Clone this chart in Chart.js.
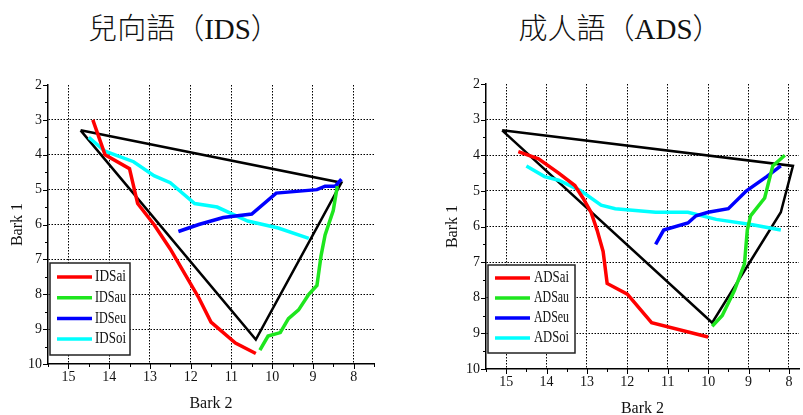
<!DOCTYPE html>
<html>
<head>
<meta charset="utf-8">
<script src="https://cdn.jsdelivr.net/npm/chart.js@4.4.1/dist/chart.umd.min.js"></script>
<style>
  html, body { margin: 0; padding: 0; background: #fff; overflow: hidden; }
  body { width: 803px; height: 415px; position: relative; }
  .title {
    position: absolute;
    top: 9px;
    line-height: 40px;
    font-family: "Liberation Serif", "Noto Sans CJK TC", serif;
    font-size: 29px;
    font-weight: 300;
    color: #111;
    white-space: nowrap;
    transform: translateX(-50%);
  }
  .box { position: absolute; top: 0; height: 420px; }
</style>
</head>
<body>
<div class="title" style="left:184px">兒向語（IDS）</div>
<div class="title" style="left:620px">成人語（ADS）</div>
<div class="box" style="left:0;width:400px"><canvas id="idsChart"></canvas></div>
<div class="box" style="left:400px;width:403px"><canvas id="adsChart"></canvas></div>
<script>
// [Bark 2, Bark 1] pairs
const idsTriangle = [[14.7, 3.3], [8.3, 4.8], [10.4, 9.3], [14.7, 3.3]];
const idsAi = [[14.4, 3.0], [14.1, 4.0], [13.5, 4.4], [13.3, 5.4], [12.9, 6.0], [12.5, 6.7], [12.0, 7.7], [11.8, 8.1], [11.5, 8.8], [10.9, 9.4], [10.4, 9.7]];
const idsAu = [[10.3, 9.6], [10.1, 9.2], [9.8, 9.1], [9.6, 8.7], [9.35, 8.45], [9.1, 8.0], [8.9, 7.75], [8.8, 6.9], [8.7, 6.3], [8.5, 5.6], [8.4, 4.9]];
const idsEu = [[12.3, 6.2], [11.8, 6.0], [11.2, 5.8], [10.5, 5.7], [9.9, 5.1], [8.9, 5.0], [8.7, 4.9], [8.45, 4.9], [8.3, 4.7]];
const idsOi = [[14.5, 3.5], [14.1, 3.9], [13.4, 4.2], [12.9, 4.6], [12.5, 4.8], [11.9, 5.4], [11.35, 5.5], [10.6, 5.9], [9.85, 6.1], [9.1, 6.4]];

const adsTriangle = [[15.1, 3.3], [7.9, 4.3], [8.2, 5.6], [9.9, 8.7], [15.1, 3.3]];
const adsAi = [[14.7, 3.9], [14.2, 4.1], [13.7, 4.5], [13.3, 4.85], [13.1, 5.2], [12.9, 5.6], [12.75, 6.1], [12.6, 6.7], [12.5, 7.6], [12.0, 7.9], [11.4, 8.7], [10.0, 9.1]];
const adsAu = [[9.9, 8.8], [9.65, 8.5], [9.35, 7.8], [9.1, 7.05], [9.03, 6.1], [8.95, 5.7], [8.6, 5.2], [8.4, 4.3], [8.1, 4.0]];
const adsEu = [[11.3, 6.5], [11.1, 6.1], [10.5, 5.9], [10.3, 5.7], [10.0, 5.6], [9.5, 5.5], [9.05, 5.0], [8.55, 4.6], [8.2, 4.3]];
const adsOi = [[14.5, 4.3], [14.05, 4.6], [13.7, 4.7], [13.15, 5.0], [12.65, 5.4], [12.3, 5.5], [11.3, 5.6], [10.5, 5.6], [9.8, 5.8], [8.9, 5.95], [8.2, 6.1]];

const idsLabels = ["IDSai", "IDSau", "IDSeu", "IDSoi"];
const adsLabels = ["ADSai", "ADSau", "ADSeu", "ADSoi"];
const xTicks = [8, 9, 10, 11, 12, 13, 14, 15];
const yTicks = [2, 3, 4, 5, 6, 7, 8, 9, 10];
const lineColors = ["#FF0000", "#1EE61E", "#0000FF", "#00FFFF"];

const serif = "'Liberation Serif', 'Times New Roman', serif";

// small outward ticks on both axes, long at integers, short at halves
const axisTicks = {
  id: "axisTicks",
  afterDraw(chart) {
    const { ctx, chartArea, scales } = chart;
    ctx.save();
    ctx.strokeStyle = "#000";
    ctx.lineWidth = 1;
    for (let v = Math.ceil(scales.x.min * 2) / 2; v <= scales.x.max; v += 0.5) {
      const px = Math.round(scales.x.getPixelForValue(v)) + 0.5;
      const len = Number.isInteger(v) ? 5 : 3;
      ctx.beginPath();
      ctx.moveTo(px, chartArea.bottom);
      ctx.lineTo(px, chartArea.bottom + len);
      ctx.stroke();
    }
    for (let v = Math.ceil(scales.y.min * 2) / 2; v <= scales.y.max; v += 0.5) {
      const py = Math.round(scales.y.getPixelForValue(v)) + 0.5;
      const len = Number.isInteger(v) ? 5 : 3;
      ctx.beginPath();
      ctx.moveTo(chartArea.left, py);
      ctx.lineTo(chartArea.left - len, py);
      ctx.stroke();
    }
    ctx.restore();
  },
};

// boxed legend sitting inside the plot, lower left
const boxLegend = {
  id: "boxLegend",
  afterDatasetsDraw(chart, args, opts) {
    const { ctx, chartArea } = chart;
    const x = chartArea.left + opts.dx;
    const y = chartArea.top + opts.dy;
    ctx.save();
    ctx.fillStyle = "#fff";
    ctx.fillRect(x, y, opts.w, opts.h);
    ctx.strokeStyle = "#222";
    ctx.lineWidth = 1.5;
    ctx.strokeRect(x, y, opts.w, opts.h);
    ctx.font = "16px " + serif;
    ctx.textBaseline = "middle";
    chart.data.datasets
      .filter((d) => d.label)
      .forEach((d, i) => {
        const ly = y + opts.first + i * opts.step;
        ctx.strokeStyle = d.borderColor;
        ctx.lineWidth = 3.5;
        ctx.beginPath();
        ctx.moveTo(x + opts.lineX, ly);
        ctx.lineTo(x + opts.lineX + 35, ly);
        ctx.stroke();
        ctx.fillStyle = "#111";
        ctx.fillText(d.label, x + opts.textX, ly, opts.textW);
      });
    ctx.restore();
  },
};

const makeChart = (canvasId, triangle, series, labels, xMin, pad, yAxisW, xAxisH, legend) => {
  const toXY = (pts) => pts.map((p) => ({ x: p[0], y: p[1] }));

  const datasets = [
    {
      label: "",
      data: toXY(triangle),
      borderColor: "#000",
      borderWidth: 2.5,
      order: 1,
    },
  ].concat(
    series.map((pts, i) => ({
      label: labels[i],
      data: toXY(pts),
      borderColor: lineColors[i],
      borderWidth: 3.5,
      order: 0,
    }))
  );

  return new Chart(document.getElementById(canvasId), {
    type: "scatter",
    data: { datasets: datasets },
    options: {
      responsive: true,
      maintainAspectRatio: false,
      animation: false,
      showLine: true,
      elements: {
        point: { radius: 0, hoverRadius: 0 },
        line: { tension: 0, borderCapStyle: "butt", borderJoinStyle: "miter" },
      },
      layout: { padding: pad },
      plugins: {
        legend: { display: false },
        tooltip: { enabled: false },
        boxLegend: legend,
      },
      scales: {
        x: {
          type: "linear",
          min: xMin,
          max: 15.5,
          reverse: true,
          afterBuildTicks: (scale) => {
            scale.ticks = xTicks.map((v) => ({ value: v }));
          },
          afterFit: (scale) => {
            scale.height = xAxisH;
          },
          ticks: {
            padding: 5,
            color: "#111",
            font: { family: serif, size: 14 },
          },
          grid: { color: "#000", lineWidth: 1, drawTicks: false },
          border: { display: true, color: "#000", width: 1.5, dash: [1.5, 1.5] },
          title: {
            display: true,
            text: "Bark 2",
            color: "#111",
            font: { family: serif, size: 16 },
            padding: 0,
          },
        },
        y: {
          type: "linear",
          min: 2,
          max: 10,
          reverse: true,
          afterBuildTicks: (scale) => {
            scale.ticks = yTicks.map((v) => ({ value: v }));
          },
          afterFit: (scale) => {
            scale.width = yAxisW;
          },
          ticks: {
            padding: 6,
            color: "#111",
            font: { family: serif, size: 14 },
          },
          grid: {
            color: (c) =>
              c.tick && (c.tick.value === 2 || c.tick.value === 10) ? "rgba(0,0,0,0)" : "#000",
            lineWidth: 1,
            drawTicks: false,
          },
          border: { display: true, color: "#000", width: 1.5, dash: [1.5, 1.5] },
          title: {
            display: true,
            text: "Bark 1",
            color: "#111",
            font: { family: serif, size: 16 },
            padding: 0,
          },
        },
      },
    },
    plugins: [axisTicks, boxLegend],
  });
};

makeChart(
  "idsChart",
  idsTriangle,
  [idsAi, idsAu, idsEu, idsOi],
  idsLabels,
  7.5,
  { left: 8, right: 26, top: 85, bottom: 7 },
  40,
  49,
  { dx: 2, dy: 178, w: 80, h: 92, first: 14, step: 20.7, lineX: 7, textX: 45, textW: 31 }
);

makeChart(
  "adsChart",
  adsTriangle,
  [adsAi, adsAu, adsEu, adsOi],
  adsLabels,
  7.75,
  { left: 43, right: 4, top: 84, bottom: 2 },
  43,
  49,
  { dx: 2, dy: 181, w: 87, h: 88, first: 13, step: 20, lineX: 7, textX: 46, textW: 35 }
);
</script>
</body>
</html>
